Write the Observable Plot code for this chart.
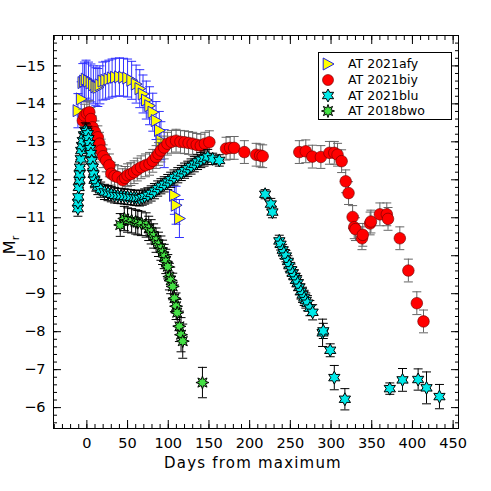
<!DOCTYPE html>
<html><head><meta charset="utf-8">
<script src="https://cdn.jsdelivr.net/npm/d3@7"></script>
<script src="https://cdn.jsdelivr.net/npm/@observablehq/plot@0.6"></script>
<style>
body{margin:0;background:#fff}
#wrap{position:relative;width:491px;height:491px}
#wrap svg.leg{position:absolute;left:0;top:0}
</style>
</head><body><div id="wrap"></div>
<script>
// ---- data (days from maximum, absolute r magnitude, error) ----
const afyDays=[-11,-7,-5,-3,-1,2,5,8,11,13.5,16,19.6,23,27,31,35,40,45,50,55,60.5,65,69,73,77,81,85,89,91,95,107.5,109.6,113.7];
const afyMags=[-13.82,-14.13,-14.56,-14.6,-14.65,-14.6,-14.55,-14.5,-14.45,-14.43,-14.5,-14.6,-14.62,-14.65,-14.68,-14.7,-14.71,-14.7,-14.68,-14.62,-14.52,-14.4,-14.26,-14.1,-13.95,-13.78,-13.56,-13.3,-13.03,-12.82,-11.59,-11.33,-10.98];
const afyErrs=[0.45,0.45,0.5,0.5,0.5,0.5,0.5,0.5,0.5,0.5,0.5,0.5,0.5,0.5,0.5,0.5,0.5,0.5,0.5,0.5,0.5,0.5,0.5,0.5,0.5,0.5,0.5,0.5,0.5,0.5,0.5,0.5,0.5];

const biyDays=[-5,-3,0,3,5,7,10,13.5,15.5,17.5,20,23.7,27.7,30,34,38,44,47,50,54,58,62,66.6,72,77,81,85,88,91,95,99,104,109.6,115,120,125,130,135,140,145,150.5,171,176,181,193.5,208,213,216,261,269,277,287.5,298,304,308,313,318,321.5,326.5,328.5,330,338,339,348,349,360,368.5,370,384.5,395,405.4,413.6];
const biyMags=[-13.56,-13.69,-13.75,-13.78,-13.6,-13.38,-13.25,-13.12,-12.95,-12.77,-12.62,-12.51,-12.38,-12.16,-12.1,-12.07,-11.99,-12.05,-12.12,-12.15,-12.2,-12.27,-12.33,-12.38,-12.42,-12.5,-12.6,-12.68,-12.77,-12.85,-12.95,-13.0,-13.03,-13.0,-12.99,-12.97,-12.95,-12.92,-12.9,-12.95,-12.99,-12.82,-12.84,-12.84,-12.73,-12.66,-12.64,-12.62,-12.73,-12.75,-12.61,-12.6,-12.71,-12.71,-12.66,-12.49,-11.96,-11.65,-11.02,-10.75,-10.7,-10.46,-10.55,-10.85,-10.9,-11.09,-11.09,-10.97,-10.46,-9.61,-8.75,-8.27];
const biyErrs=biyDays.map(()=>0.3);

const bluDays=[-11,-11,-10.5,-10,-9,-9,-8.5,-7.5,-7,-6,-5,-3.5,-2,-0.5,1.2,2,3,4,5,6,7.4,8.3,9.3,11,13.5,17,21.6,26,30,34,38,42,46,50,54,58,61,64.6,68,71,75,79,83,87,91,95,99.4,103,107,111.7,116,120,124,128,132,136,140,144,148.5,154.6,162.7,219,226,228,236.4,238,240.5,242,244.6,247,248.7,251,252.8,255,257,259,261,263,265,267,269,271,274,277.4,289.6,290.5,299,304,317,372.2,387.8,407,417.3,433.2];
const bluMags=[-11.24,-11.4,-11.55,-11.8,-11.99,-12.15,-12.33,-12.55,-12.77,-12.9,-13.03,-13.18,-13.3,-13.27,-13.21,-13.08,-12.95,-12.82,-12.69,-12.5,-12.33,-12.15,-11.99,-11.9,-11.81,-11.74,-11.68,-11.65,-11.62,-11.59,-11.58,-11.57,-11.56,-11.55,-11.54,-11.53,-11.52,-11.51,-11.53,-11.56,-11.59,-11.64,-11.7,-11.77,-11.83,-11.88,-11.94,-12.0,-12.06,-12.12,-12.18,-12.24,-12.29,-12.35,-12.41,-12.47,-12.52,-12.56,-12.6,-12.55,-12.51,-11.62,-11.36,-11.15,-10.39,-10.3,-10.15,-10.08,-9.99,-9.85,-9.74,-9.63,-9.54,-9.45,-9.36,-9.28,-9.17,-9.06,-8.97,-8.89,-8.82,-8.75,-8.62,-8.51,-7.97,-8.02,-7.51,-6.79,-6.22,-6.5,-6.73,-6.74,-6.52,-6.29];
const bluErrs=[0.2,0.2,0.2,0.2,0.2,0.2,0.2,0.2,0.2,0.2,0.2,0.2,0.2,0.2,0.2,0.2,0.2,0.2,0.2,0.2,0.2,0.2,0.2,0.2,0.2,0.2,0.2,0.2,0.2,0.2,0.2,0.2,0.2,0.2,0.2,0.2,0.2,0.2,0.2,0.2,0.2,0.2,0.2,0.2,0.2,0.2,0.2,0.2,0.2,0.2,0.2,0.2,0.2,0.2,0.2,0.2,0.2,0.2,0.2,0.15,0.15,0.12,0.15,0.15,0.15,0.15,0.15,0.15,0.15,0.15,0.15,0.15,0.15,0.18,0.18,0.2,0.2,0.2,0.2,0.2,0.2,0.2,0.2,0.2,0.36,0.2,0.17,0.32,0.28,0.15,0.3,0.28,0.42,0.32];

const bwoDays=[41,46,50,55,60,62.6,67,72.8,76,79,82,85,88,91,93,95,97,99.4,101.4,103,105.5,107.6,109.6,111,113.7,115.7,117.8,142];
const bwoMags=[-10.81,-10.98,-10.94,-10.92,-10.89,-10.87,-10.85,-10.81,-10.72,-10.63,-10.52,-10.41,-10.3,-10.2,-10.09,-9.98,-9.85,-9.71,-9.45,-9.35,-9.19,-8.88,-8.67,-8.5,-8.14,-7.92,-7.75,-6.66];
const bwoErrs=[0.3,0.32,0.32,0.32,0.32,0.32,0.32,0.32,0.32,0.32,0.32,0.32,0.32,0.32,0.32,0.32,0.32,0.32,0.35,0.35,0.35,0.35,0.35,0.35,0.4,0.45,0.45,0.4];

const seriesNames=["AT 2021afy","AT 2021biy","AT 2021blu","AT 2018bwo"];
const xMajor=[0,50,100,150,200,250,300,350,400,450];
const yMajor=[-15,-14,-13,-12,-11,-10,-9,-8,-7,-6];

// ---- helpers ----
const rows=(d,m,e)=>d.map((v,i)=>({day:v,mag:m[i],err:e[i]}));
const afy=rows(afyDays,afyMags,afyErrs), biy=rows(biyDays,biyMags,biyErrs),
      blu=rows(bluDays,bluMags,bluErrs), bwo=rows(bwoDays,bwoMags,bwoErrs);

const rad=size=>Math.sqrt(size/Math.PI);
const capSym={draw(c,size){const s=rad(size);c.moveTo(-s,0);c.lineTo(s,0);}};
const triRight={draw(c,size){const s=rad(size);c.moveTo(-0.8*s,-s);c.lineTo(s,0);c.lineTo(-0.8*s,s);c.closePath();}};
function starSym(n,inner){return {draw(c,size){const s=rad(size);for(let i=0;i<2*n;i++){const r=i%2?s*inner:s;const a=Math.PI*i/n-Math.PI/2;const x=r*Math.cos(a),y=r*Math.sin(a);i?c.lineTo(x,y):c.moveTo(x,y);}c.closePath();}};}
const star6=starSym(6,0.55), star8=starSym(8,0.5);

function errMarks(data,color,w){
  return [
    Plot.ruleX(data,{x:"day",y1:d=>d.mag-d.err,y2:d=>d.mag+d.err,stroke:color,strokeWidth:w}),
    Plot.dot(data,{x:"day",y:d=>d.mag-d.err,symbol:capSym,r:4.5,stroke:color,fill:"none",strokeWidth:w}),
    Plot.dot(data,{x:"day",y:d=>d.mag+d.err,symbol:capSym,r:4.5,stroke:color,fill:"none",strokeWidth:w})
  ];
}
const xMinor=d3.range(-40,457,10), yMinor=d3.range(-15.8,-5.4,0.2).map(v=>+v.toFixed(1));

const font="DejaVu Sans";
const chart=Plot.plot({
  width:491,height:491,
  marginTop:35,marginBottom:63,marginLeft:53,marginRight:33,
  style:{fontFamily:font,fontSize:"14.5px",color:"#000",background:"#fff"},
  x:{domain:[-41,456.6]},
  y:{domain:[-5.45,-15.8]},
  marks:[
    ...errMarks(afy,"#3030ff",1),
    Plot.dot(afy,{x:"day",y:"mag",symbol:triRight,r:6,fill:"#ffff00",stroke:"#2020e0",strokeWidth:1}),
    ...errMarks(biy,"#666",1),
    Plot.dot(biy,{x:"day",y:"mag",r:5.8,fill:"#ff0000",stroke:"#600",strokeWidth:0.6}),
    ...errMarks(blu,"#000",1),
    Plot.dot(blu,{x:"day",y:"mag",symbol:star6,r:6.5,fill:"#00e8e8",stroke:"#000",strokeWidth:1}),
    ...errMarks(bwo,"#000",1),
    Plot.dot(bwo,{x:"day",y:"mag",symbol:star8,r:6.5,fill:"#44e044",stroke:"#000",strokeWidth:1}),
    Plot.frame({stroke:"#000",strokeWidth:1}),
    Plot.axisX({anchor:"bottom",ticks:xMajor,tickSize:-8,fill:"none",label:null}),
    Plot.axisX({anchor:"top",ticks:xMajor,tickSize:-8,fill:"none",label:null}),
    Plot.axisX({anchor:"bottom",ticks:xMinor,tickSize:-4,fill:"none",label:null}),
    Plot.axisX({anchor:"top",ticks:xMinor,tickSize:-4,fill:"none",label:null}),
    Plot.axisX({anchor:"bottom",ticks:xMajor,tickSize:0,tickPadding:9,tickFormat:d3.format("d"),label:null}),
    Plot.axisY({anchor:"left",ticks:yMajor,tickSize:-8,fill:"none",label:null}),
    Plot.axisY({anchor:"right",ticks:yMajor,tickSize:-8,fill:"none",label:null}),
    Plot.axisY({anchor:"left",ticks:yMinor,tickSize:-4,fill:"none",label:null}),
    Plot.axisY({anchor:"right",ticks:yMinor,tickSize:-4,fill:"none",label:null}),
    Plot.axisY({anchor:"left",ticks:yMajor,tickSize:0,tickPadding:8,label:null}),
    Plot.text(["Days from maximum"],{frameAnchor:"bottom",dy:39,dx:-3,fontSize:15,fill:"#000",style:"letter-spacing:1.2px"})
  ]
});
const wrap=document.getElementById("wrap");
wrap.appendChild(chart);
d3.select(chart).selectAll("text").filter(function(){return this.textContent==="Days from maximum";}).style("letter-spacing","1.2px");

// y label with subscript
const sv=d3.select(chart);
const yl=sv.append("text").attr("transform","translate(15,245) rotate(-90)").attr("text-anchor","middle")
  .attr("font-family",font).attr("font-size",16).attr("fill","#000");
yl.append("tspan").text("M");
yl.append("tspan").attr("font-size",11).attr("dy",4).text("r");

// legend
const leg=d3.select(wrap).append("svg").attr("class","leg").attr("width",491).attr("height",491);
leg.append("rect").attr("x",318.5).attr("y",52.5).attr("width",133).attr("height",67).attr("fill","#fff").attr("stroke","#000");
const ly=[64,80,95.5,111];
const lsym=[
  {s:triRight,r:6,fill:"#ffff00",stroke:"#2020e0"},
  {s:null,r:5.5,fill:"#ff0000",stroke:"#600"},
  {s:star6,r:6.5,fill:"#00e8e8",stroke:"#000"},
  {s:star8,r:6.5,fill:"#44e044",stroke:"#000"}
];
seriesNames.forEach((name,i)=>{
  const o=lsym[i];
  if(o.s){
    const p=d3.path(); o.s.draw(p,o.r*o.r*Math.PI);
    leg.append("path").attr("d",p.toString()).attr("transform",`translate(328,${ly[i]})`).attr("fill",o.fill).attr("stroke",o.stroke);
  } else {
    leg.append("circle").attr("cx",328).attr("cy",ly[i]).attr("r",o.r).attr("fill",o.fill).attr("stroke",o.stroke).attr("stroke-width",0.6);
  }
  leg.append("text").attr("x",348).attr("y",ly[i]).attr("dy","0.35em").attr("font-family",font).attr("font-size",12.5).attr("fill","#000").text(name);
});
</script>
</body></html>
